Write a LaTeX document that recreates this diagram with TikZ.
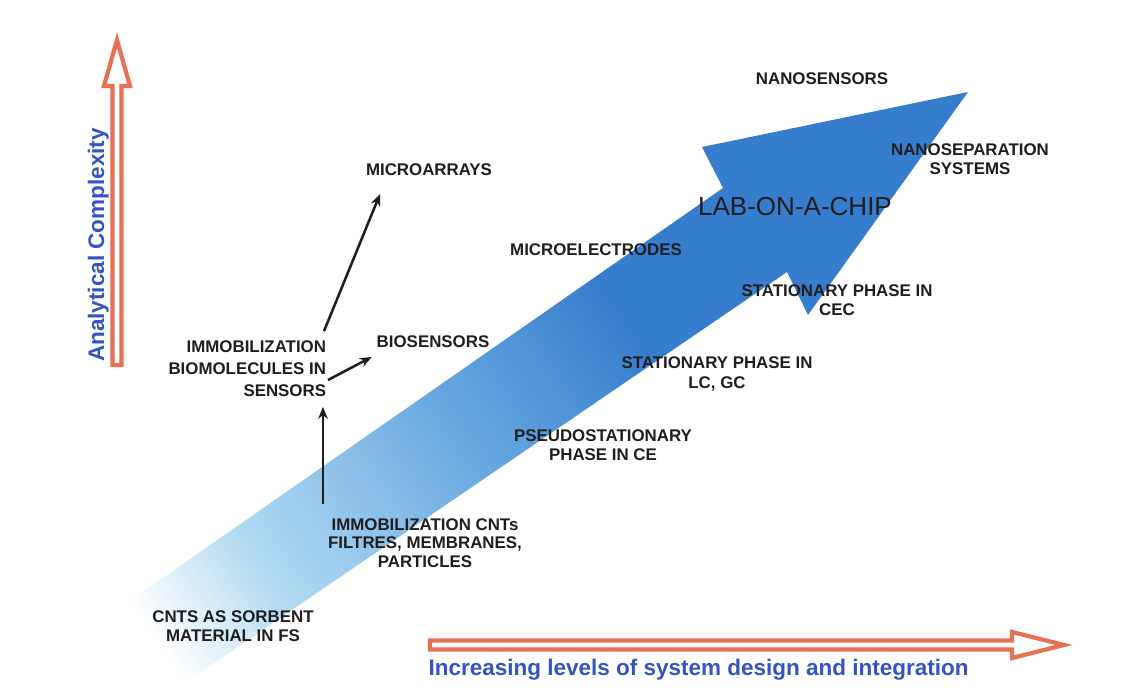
\documentclass[tikz,border=0pt]{standalone}
\usepackage{fontspec}
\setmainfont{Liberation Sans}
\usetikzlibrary{arrows.meta,calc}

\definecolor{axisred}{RGB}{232,112,84}
\definecolor{axisblue}{RGB}{52,84,196}
\definecolor{trenddeep}{RGB}{55,125,205}
\definecolor{trendmid}{RGB}{105,168,224}
\definecolor{trendpale}{RGB}{180,220,242}
\definecolor{labelgray}{RGB}{30,30,30}

\pgfdeclarehorizontalshading{bluetrend}{100bp}{color(0bp)=(white); color(21bp)=(white); color(29bp)=(trendpale); color(45bp)=(trendmid); color(58bp)=(trenddeep); color(100bp)=(trenddeep)}

\begin{document}
\begin{tikzpicture}[x=0.025cm, y=-0.025cm, thick,
    stage/.style={font=\bfseries\fontsize{12}{13.8}\selectfont, text=labelgray, align=center, inner sep=1pt},
    conn/.style={-{Stealth[length=3mm, width=2.4mm]}, line width=1.8pt, labelgray},
    axisarrow/.style={draw=axisred, line width=3pt, fill=white, line join=miter},
    axislabel/.style={font=\bfseries\fontsize{16}{18}\selectfont, text=axisblue, inner sep=0pt}]

    \useasboundingbox (0,0) rectangle (1138,688);
    \clip (0,0) rectangle (1138,688);

    % big trend arrow
    \shade[shading=bluetrend, shading angle=35] (88,630) -- (723,188) -- (702,147) -- (968,92) -- (808,315) -- (787,272) -- (160,700) -- cycle;

    % axes
    \draw[axisarrow] (112.5,365) -- (112.5,86) -- (104,86) -- (117,40) -- (130,86) -- (121.5,86) -- (121.5,365) -- cycle;
    \draw[axisarrow] (430,640.5) -- (1012,640.5) -- (1012,632) -- (1064,645) -- (1012,658) -- (1012,649.5) -- (430,649.5) -- cycle;

    \node[axislabel, rotate=90, anchor=base] (complexity) at (104,245) {Analytical Complexity};
    \node[axislabel, anchor=base west] (integration) at (428,675) {Increasing levels of system design and integration};

    % stages
    \node[stage] (sorbent) at (233,626) {CNTS AS SORBENT\\MATERIAL IN FS};
    \node[stage, font=\bfseries\fontsize{12}{13.2}\selectfont] (cnts) at (425,543) {IMMOBILIZATION CNTs\\FILTRES, MEMBRANES,\\PARTICLES};
    \node[stage, align=right, anchor=east, font=\bfseries\fontsize{12}{15.6}\selectfont] (immob) at (328,369) {IMMOBILIZATION\\BIOMOLECULES IN\\SENSORS};
    \node[stage] (bio) at (433,342) {BIOSENSORS};
    \node[stage] (micro) at (429,170) {MICROARRAYS};
    \node[stage] (electrodes) at (596,250) {MICROELECTRODES};
    \node[stage] (pseudo) at (603,445) {PSEUDOSTATIONARY\\PHASE IN CE};
    \node[stage] (lcgc) at (717,374) {STATIONARY PHASE IN\\LC, GC};
    \node[stage] (cec) at (837,300) {STATIONARY PHASE IN\\CEC};
    \node[stage, font=\fontsize{18.5}{20}\selectfont] (lab) at (795,207) {LAB-ON-A-CHIP};
    \node[stage] (nanosep) at (970,159) {NANOSEPARATION\\SYSTEMS};
    \node[stage] (nanosensors) at (822,79) {NANOSENSORS};

    % connectors
    \draw[conn] ([xshift=-0.8mm, yshift=3mm]cnts.north west) -- ([xshift=-0.8mm, yshift=-2mm]cnts.north west |- immob.south);
    \draw[conn] ([yshift=-2.75mm]immob.east) -- ([xshift=-0.75mm, yshift=-1.75mm]bio.south west);
    \draw[conn] ([xshift=-1mm, yshift=2mm]immob.north east) -- ([xshift=4mm, yshift=-4mm]micro.south west);
\end{tikzpicture}
\end{document}
